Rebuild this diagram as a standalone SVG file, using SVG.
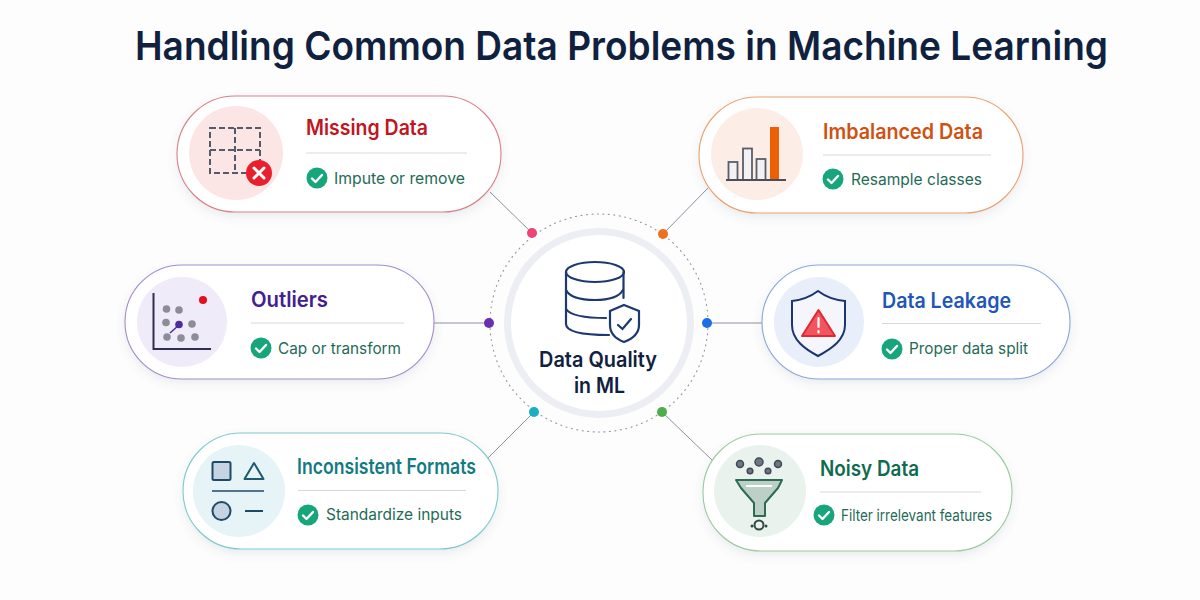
<svg xmlns="http://www.w3.org/2000/svg" width="1200" height="600" viewBox="0 0 1200 600">
<style>
text{font-family:Inter,"Liberation Sans",sans-serif}
.title{font-size:40px;font-weight:600;fill:#10213f}
.h{font-size:21px;font-weight:600}
.sub{font-size:16px;font-weight:400;fill:#1f6b57}
.card{fill:#fff;stroke-width:1.1;filter:url(#sh)}
.div{stroke:#d6d8dc;stroke-width:1}
.ck{fill:none;stroke:#fff;stroke-width:2.4;stroke-linecap:round;stroke-linejoin:round}
.conn{stroke:#8b929c;stroke-width:1;fill:none}
</style>
<defs>
<filter id="sh" x="-10%" y="-15%" width="120%" height="135%"><feDropShadow dx="0" dy="4" stdDeviation="5" flood-color="#5a6c8c" flood-opacity=".12"/></filter>
<g id="check"><circle r="10.5" fill="#17a67c"/><path class="ck" d="M-5 0.5 L-1.5 4 L5 -3"/></g>
</defs>
<rect width="1200" height="600" fill="#fdfdfd"/>
<text id="title" class="title" x="135" y="59.500" textLength="973" lengthAdjust="spacingAndGlyphs">Handling Common Data Problems in Machine Learning</text>

<g id="connectors" class="conn">
<line x1="532" y1="233" x2="490" y2="192"/>
<line x1="663" y1="234" x2="708" y2="188"/>
<line x1="489" y1="323" x2="434" y2="323"/>
<line x1="707" y1="323" x2="762" y2="323"/>
<line x1="534" y1="412" x2="488" y2="458"/>
<line x1="662" y1="412" x2="713" y2="461"/>
</g>

<g id="center">
<circle cx="599" cy="323" r="109" fill="none" stroke="#8d96a3" stroke-width="1.1" stroke-dasharray="1 4.500" stroke-linecap="round"/>
<circle cx="599" cy="323" r="91.500" fill="#fff" stroke="#eceef3" stroke-width="7"/>
<g fill="none" stroke="#1c3a70" stroke-width="2.200" stroke-linecap="round">
<ellipse cx="595" cy="272" rx="29" ry="10"/>
<path d="M566 272V324C566 331 580 335 609 335"/>
<path d="M623.500 272V298"/>
<path d="M566 290C570 298 582 300 595 300C608 300 619 297 623 290"/>
<path d="M566 309C570 315 582 318 606 318"/>
<path d="M624 305L639 311V325C639 334 632 339 624 342C616 339 610 334 610 325V311Z" fill="#fff"/>
<path d="M618 325L622.500 329L631 319"/>
</g>
<text x="598" y="367" text-anchor="middle" font-size="21.500" font-weight="600" fill="#10213f" textLength="118" lengthAdjust="spacingAndGlyphs">Data Quality</text>
<text x="599.500" y="393" text-anchor="middle" font-size="21.500" font-weight="600" fill="#10213f" textLength="51" lengthAdjust="spacingAndGlyphs">in ML</text>
</g>
<g id="dots">
<circle cx="532" cy="233" r="5" fill="#ee4476"/>
<circle cx="663" cy="234" r="5" fill="#f0701f"/>
<circle cx="489" cy="323" r="5" fill="#6a2fb0"/>
<circle cx="707" cy="323" r="5" fill="#1a6ee6"/>
<circle cx="534" cy="412" r="5" fill="#17b0c4"/>
<circle cx="662" cy="412" r="5" fill="#4fae4a"/>
</g>

<g id="missing-data">
<rect class="card" x="177" y="96" width="324" height="116" rx="58" stroke="#d9808a"/>
<circle cx="236" cy="153" r="47" fill="#fbe6e5"/>
<g fill="none" stroke="#555a68" stroke-width="2" stroke-dasharray="6 3"><rect x="210" y="128" width="50" height="45"/><path d="M235 128V173M210 150H260"/></g>
<circle cx="259" cy="173" r="13" fill="#e8202e"/>
<path d="M254 168L264 178M264 168L254 178" stroke="#fff" stroke-width="3" stroke-linecap="round"/>
<text class="h" x="306" y="135" fill="#c01622" textLength="122" lengthAdjust="spacingAndGlyphs">Missing Data</text>
<line class="div" x1="306" y1="153" x2="467" y2="153"/>
<use href="#check" x="317" y="178"/>
<text class="sub" x="334" y="184" textLength="131" lengthAdjust="spacingAndGlyphs">Impute or remove</text>
</g>

<g id="imbalanced-data">
<rect class="card" x="699" y="97" width="324" height="116" rx="58" stroke="#eda070"/>
<circle cx="757" cy="154" r="46" fill="#fcede6"/>
<g fill="#f3f1f3" stroke="#5a5e6a" stroke-width="1.800"><rect x="728.500" y="162" width="9" height="18"/><rect x="743" y="148.500" width="9" height="31.500"/><rect x="756.500" y="159" width="9" height="21"/></g>
<rect x="770" y="127" width="9" height="53" fill="#ec5f06"/>
<line x1="726" y1="180" x2="786" y2="180" stroke="#4a4e5a" stroke-width="2"/>
<text class="h" x="823" y="139" fill="#cf5212" textLength="160" lengthAdjust="spacingAndGlyphs">Imbalanced Data</text>
<line class="div" x1="823" y1="155" x2="991" y2="155"/>
<use href="#check" x="833" y="179"/>
<text class="sub" x="851" y="185" textLength="131" lengthAdjust="spacingAndGlyphs">Resample classes</text>
</g>

<g id="outliers">
<rect class="card" x="125" y="265" width="309" height="114" rx="57" stroke="#a48ccb"/>
<circle cx="182" cy="322" r="45" fill="#f0ebf8"/>
<path d="M153.500 293V349H211" fill="none" stroke="#2f2f4f" stroke-width="2"/>
<g fill="#8c8d96"><circle cx="166.500" cy="309" r="3.800"/><circle cx="179" cy="310" r="3.800"/><circle cx="166" cy="322.500" r="3.800"/><circle cx="192" cy="324" r="3.800"/><circle cx="167" cy="337" r="3.800"/><circle cx="181" cy="338" r="3.800"/><circle cx="195" cy="337" r="3.800"/></g>
<line x1="170" y1="333" x2="179" y2="325" stroke="#4f2b9e" stroke-width="1.500"/>
<circle cx="179" cy="324.500" r="3.800" fill="#4f2b9e"/>
<circle cx="203" cy="300" r="4" fill="#e2111f"/>
<text class="h" x="251" y="307" fill="#43208f" textLength="77" lengthAdjust="spacingAndGlyphs">Outliers</text>
<line class="div" x1="251" y1="323" x2="404" y2="323"/>
<use href="#check" x="261" y="348"/>
<text class="sub" x="278" y="354" textLength="123" lengthAdjust="spacingAndGlyphs">Cap or transform</text>
</g>

<g id="data-leakage">
<rect class="card" x="762" y="265" width="308" height="114" rx="57" stroke="#8aa6d8"/>
<circle cx="819" cy="322" r="45" fill="#e8eefa"/>
<path d="M818 291C810 297 802 300 792 301V325C792 340 805 349 818 356C831 349 845 340 845 325V301C834 300 826 297 818 291Z" fill="#f4f6fb" stroke="#1c3570" stroke-width="2"/>
<path d="M818.500 310L835 336H802Z" fill="#f2555d" stroke="#dd2a36" stroke-width="2" stroke-linejoin="round"/>
<path d="M818.500 318V327M818.500 331V332.500" stroke="#fff" stroke-width="2.200" stroke-linecap="round"/>
<text class="h" x="882" y="308" fill="#1f56b8" textLength="129" lengthAdjust="spacingAndGlyphs">Data Leakage</text>
<line class="div" x1="882" y1="323.500" x2="1041" y2="323.500"/>
<use href="#check" x="892" y="349"/>
<text class="sub" x="909" y="354" textLength="119" lengthAdjust="spacingAndGlyphs">Proper data split</text>
</g>

<g id="inconsistent-formats">
<rect class="card" x="183" y="433" width="315" height="116" rx="58" stroke="#7fc9cd"/>
<circle cx="239" cy="491" r="46" fill="#e6f3f7"/>
<rect x="212.500" y="462" width="18" height="18" rx="1.500" fill="#c5d3e2" stroke="#1f4a66" stroke-width="2"/>
<path d="M254 463L263.500 479H244.500Z" fill="none" stroke="#1f5a72" stroke-width="2" stroke-linejoin="round"/>
<line x1="212" y1="491" x2="264" y2="491" stroke="#1f4a66" stroke-width="1.500"/>
<circle cx="221.500" cy="511" r="9" fill="#c5d3e2" stroke="#1f4a66" stroke-width="2"/>
<line x1="245" y1="511" x2="263" y2="511" stroke="#1f4a66" stroke-width="2"/>
<text class="h" x="297" y="474" fill="#137a80" textLength="179" lengthAdjust="spacingAndGlyphs">Inconsistent Formats</text>
<line class="div" x1="298" y1="490.500" x2="466" y2="490.500"/>
<use href="#check" x="308" y="515"/>
<text class="sub" x="326" y="520" textLength="136" lengthAdjust="spacingAndGlyphs">Standardize inputs</text>
</g>

<g id="noisy-data">
<rect class="card" x="703" y="434" width="309" height="117" rx="58" stroke="#9cc9a0"/>
<circle cx="760" cy="491" r="46" fill="#e9f2ec"/>
<g fill="#6f7780" stroke="#3f4a55" stroke-width="1.500"><circle cx="740" cy="464" r="3.500"/><circle cx="759" cy="462" r="4"/><circle cx="778" cy="464" r="3.500"/><circle cx="750" cy="471" r="2.800"/><circle cx="768" cy="471" r="2.800"/></g>
<path d="M736 480H782L778 488L765 503V516H754V503L741 488Z" fill="#bcd0c5" stroke="#2f6a55" stroke-width="2" stroke-linejoin="round"/>
<line x1="746" y1="486" x2="772" y2="486" stroke="#fff" stroke-width="2"/>
<circle cx="759" cy="525" r="4.500" fill="none" stroke="#2f4a45" stroke-width="2"/>
<circle cx="752" cy="526" r="1.500" fill="#2f4a45"/><circle cx="766" cy="526" r="1.500" fill="#2f4a45"/>
<text class="h" x="820" y="476" fill="#0f6b4f" textLength="99" lengthAdjust="spacingAndGlyphs">Noisy Data</text>
<line class="div" x1="820" y1="492" x2="981" y2="492"/>
<use href="#check" x="824" y="515"/>
<text class="sub" x="841" y="521" textLength="151" lengthAdjust="spacingAndGlyphs">Filter irrelevant features</text>
</g>
</svg>
